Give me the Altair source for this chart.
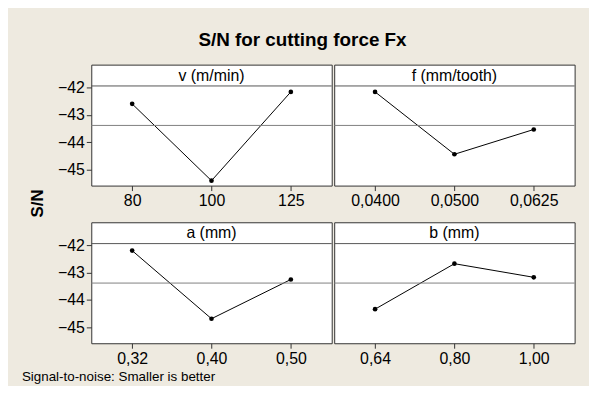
import altair as alt
import pandas as pd

# ---- data ----
factors = ["v (m/min)", "f (mm/tooth)", "a (mm)", "b (mm)"]
levels_v = ["80", "100", "125"]
sn_v = [-42.59, -45.41, -42.15]
levels_f = ["0,0400", "0,0500", "0,0625"]
sn_f = [-42.15, -44.44, -43.53]
levels_a = ["0,32", "0,40", "0,50"]
sn_a = [-42.19, -44.69, -43.25]
levels_b = ["0,64", "0,80", "1,00"]
sn_b = [-44.34, -42.67, -43.17]
y_ticks = [-42, -43, -44, -45]

title_text = "S/N for cutting force Fx"
y_title = "S/N"
footer_text = "Signal-to-noise: Smaller is better"

levels = [levels_v, levels_f, levels_a, levels_b]
sns = [sn_v, sn_f, sn_a, sn_b]
rows = []
for fac, lv, sv in zip(factors, levels, sns):
    for i, (l, s) in enumerate(zip(lv, sv)):
        rows.append({"factor": fac, "level": l, "sn": s, "order": i})
df = pd.DataFrame(rows)

FONT = "Liberation Sans"
W = 242.5
H = 122
Y_DOMAIN = [-45.59, -41.15]
BG = "#EEEAE0"


def panel(idx, show_y, y_title_on=False, footer=False):
    fac = factors[idx]
    base = (
        alt.Chart(df)
        .transform_joinaggregate(grand="mean(sn)")
        .transform_filter(alt.datum.factor == fac)
    )
    x = alt.X(
        "level:O",
        sort=levels[idx],
        scale=alt.Scale(type="point", padding=0.515),
        axis=alt.Axis(
            title=None, labelAngle=0, domain=False, ticks=True, tickSize=5,
            tickColor="#333333", labelFontSize=16, labelFont=FONT,
            labelColor="black", labelPadding=2, grid=False,
        ),
    )
    if show_y:
        if y_title_on:
            yaxis = alt.Axis(
                values=y_ticks, domain=False, tickSize=5, tickColor="#333333",
                labelFontSize=16, labelFont=FONT, labelColor="black",
                labelPadding=2, grid=False, title=y_title,
                titleFont=FONT, titleFontSize=17, titleFontWeight="bold",
                titleColor="black", titleX=-45, titleY=139.5,
                titleAlign="center", titleAngle=270,
            )
        else:
            yaxis = alt.Axis(
                values=y_ticks, domain=False, tickSize=5, tickColor="#333333",
                labelFontSize=16, labelFont=FONT, labelColor="black",
                labelPadding=2, grid=False, title=None,
            )
    else:
        yaxis = None
    y = alt.Y("sn:Q", scale=alt.Scale(domain=Y_DOMAIN, nice=False, zero=False), axis=yaxis)

    line = base.mark_line(color="black", strokeWidth=1).encode(
        x=x, y=y, order="order:Q"
    )
    pts = base.mark_circle(color="black", size=22, opacity=1).encode(x=x, y=y)
    mean_rule = base.mark_rule(color="#808080", strokeWidth=1).encode(
        y=alt.Y("mean(grand):Q")
    )
    first = base.transform_filter(alt.datum.order == 0)
    hdr_line = first.mark_rule(color="#555555", strokeWidth=1).encode(
        y=alt.value(21.5)
    )
    hdr_text = first.mark_text(
        font=FONT, fontSize=16, color="black", baseline="middle", align="center"
    ).encode(text="factor:N", x=alt.value(W / 2), y=alt.value(11))

    ch = alt.layer(line, pts, mean_rule, hdr_line, hdr_text).properties(width=W, height=H)
    if footer:
        ch = ch.properties(
            title=alt.TitleParams(
                footer_text, orient="bottom", anchor="start", frame="group",
                dx=-70, offset=4, fontSize=13.5, fontWeight="normal",
                font=FONT, color="black",
            )
        )
    return ch


p0 = panel(0, True, y_title_on=True)
p1 = panel(1, False)
p2 = panel(2, True, footer=True)
p3 = panel(3, False)

row1 = alt.hconcat(p0, p1, spacing=0)
row2 = alt.hconcat(p2, p3, spacing=0)

chart = (
    alt.vconcat(row1, row2, spacing=3)
    .properties(
        title=alt.TitleParams(
            title_text, anchor="middle", dx=4, offset=14.5,
            fontSize=19, fontWeight="bold", font=FONT, color="black",
        ),
        padding={"left": 13, "top": 21.5, "right": 13, "bottom": 0},
        background=BG,
    )
    .configure_view(stroke="#333333", strokeWidth=1, fill="white")
    .configure_axis(grid=False)
)

chart.save("out.html", embed_options={"renderer": "svg", "actions": False})
